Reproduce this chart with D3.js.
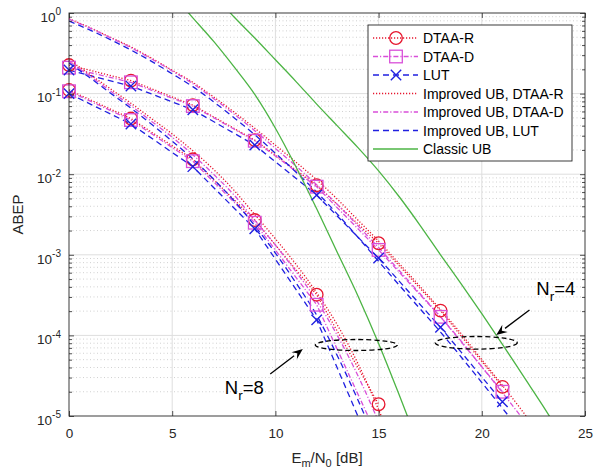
<!DOCTYPE html>
<html><head><meta charset="utf-8">
<script src="https://cdn.jsdelivr.net/npm/d3@7"></script>
<style>body{margin:0;background:#fff}svg{display:block;font-family:"Liberation Sans",Arial,Helvetica,sans-serif}</style>
</head><body><svg id="c" width="594" height="469"></svg>
<script>
// ---------- data ----------
const snrSim4 = [0, 3, 6, 9, 12, 15, 18, 21];
const simDTAAR_4 = [0.226, 0.145, 0.072, 0.0265, 0.0073, 0.00139, 2.03e-4, 2.3e-5];
const simDTAAD_4 = [0.21, 0.138, 0.07, 0.026, 0.007, 0.00115, 1.7e-4, 2.0e-5];
const simLUT_4   = [0.196, 0.124, 0.063, 0.023, 0.0055, 9.1e-4, 1.26e-4, 1.5e-5];

const snrSim8 = [0, 3, 6, 9, 12, 15];
const simDTAAR_8 = [0.111, 0.049, 0.0153, 0.0027, 3.2e-4, 1.4e-5];
const simDTAAD_8 = [0.107, 0.047, 0.0145, 0.0025, 2.4e-4, 5.2e-6];
const simLUT_8   = [0.1, 0.042, 0.0124, 0.0021, 1.56e-4, 2.5e-6];

const snrBound = [0,1,2,3,4,5,6,7,8,9,10,11,12,13,14,15,16,17,18,19,20,21,22,23,24];
const ubDTAAR_4 = [0.85,0.66,0.50,0.38,0.275,0.195,0.138,0.0912,0.0589,0.0372,0.0229,0.0141,0.00851,0.0049,0.00269,0.00148,7.76e-4,4.07e-4,2.09e-4,1.05e-4,5.0e-5,2.4e-5,1.12e-5,5.0e-6];
const ubDTAAD_4 = [0.84,0.653,0.495,0.372,0.269,0.191,0.133,0.087,0.0556,0.0347,0.0209,0.0126,0.00741,0.00422,0.00229,0.00123,6.38e-4,3.31e-4,1.70e-4,8.5e-5,4.07e-5,1.95e-5,9.1e-6];
const ubLUT_4   = [0.794,0.617,0.468,0.347,0.251,0.176,0.122,0.0794,0.0501,0.0309,0.0182,0.0106,0.0060,0.0032,0.00165,8.3e-4,4.2e-4,2.15e-4,1.1e-4,5.4e-5,2.6e-5,1.25e-5,5.9e-6];
const ubDTAAR_8 = [0.263,0.174,0.115,0.0759,0.049,0.0316,0.0195,0.0115,0.0063,0.00316,0.00158,7.6e-4,3.39e-4,1.35e-4,4.47e-5,1.2e-5,2.8e-6];
const ubDTAAD_8 = [0.251,0.166,0.108,0.0708,0.0452,0.0288,0.0174,0.01,0.0055,0.00269,0.00132,6.17e-4,2.69e-4,1.0e-4,3.16e-5,8.5e-6];
const ubLUT_8   = [0.24,0.158,0.102,0.066,0.0417,0.0257,0.0155,0.0087,0.00468,0.00229,0.00105,4.47e-4,1.78e-4,5.6e-5,1.58e-5,4e-6];

const snrClassic8 = [5,6,7,8,9,10,11,12,13,14,15,16,17];
const classicUB_8 = [1.7,0.871,0.447,0.214,0.0977,0.0372,0.0123,0.00372,0.00107,3.09e-4,7.94e-5,1.82e-5,3.98e-6];
const snrClassic4 = [7,8,9,10,11,12,13,14,15,16,17,18,19,20,21,22,23,24];
const classicUB_4 = [1.7,0.891,0.49,0.263,0.141,0.0741,0.0398,0.0214,0.011,0.00525,0.00234,0.001,4.37e-4,1.86e-4,7.76e-5,3.16e-5,1.29e-5,5.0e-6];

const xTicks = [0, 5, 10, 15, 20, 25];
const yTicks = [1e-5, 1e-4, 1e-3, 1e-2, 1e-1, 1];
const legendLabels = ["DTAA-R", "DTAA-D", "LUT", "Improved UB, DTAA-R", "Improved UB, DTAA-D", "Improved UB, LUT", "Classic UB"];

// ---------- layout / style ----------
const W = 594, H = 469;
const M = {left: 69, right: 585, top: 13, bottom: 416};
const styles = {
  R: {color: "#e6162e", dash: "1.2,1.8", width: 1.3},
  D: {color: "#d94fd9", dash: "5,2,1.2,2", width: 1.3},
  L: {color: "#2020e0", dash: "6,4", width: 1.3},
  C: {color: "#4cb444", dash: null, width: 1.3}
};
const axisColor = "#262626";

const svg = d3.select("#c");
const x = d3.scaleLinear().domain([0, 25]).range([M.left, M.right]);
const y = d3.scaleLog().domain([1e-5, 1]).range([M.bottom, M.top]);

svg.append("rect").attr("width", W).attr("height", H).attr("fill", "#fff");
svg.append("defs").append("clipPath").attr("id", "clip")
  .append("rect").attr("x", M.left).attr("y", M.top)
  .attr("width", M.right - M.left).attr("height", M.bottom - M.top);

// minor y values
const yMinor = [];
for (let e = -5; e < 0; e++) for (let k = 2; k <= 9; k++) yMinor.push(k * Math.pow(10, e));

// grid
const grid = svg.append("g");
grid.selectAll(".my").data(yMinor).join("line")
  .attr("x1", M.left).attr("x2", M.right)
  .attr("y1", d => y(d)).attr("y2", d => y(d))
  .attr("stroke", "#bdbdbd").attr("stroke-width", 0.7).attr("stroke-dasharray", "1,2.5");
grid.selectAll(".gy").data(yTicks.slice(1, -1)).join("line")
  .attr("x1", M.left).attr("x2", M.right)
  .attr("y1", d => y(d)).attr("y2", d => y(d))
  .attr("stroke", "#dedede").attr("stroke-width", 1);
grid.selectAll(".gx").data(xTicks.slice(1, -1)).join("line")
  .attr("y1", M.top).attr("y2", M.bottom)
  .attr("x1", d => x(d)).attr("x2", d => x(d))
  .attr("stroke", "#dedede").attr("stroke-width", 1);

// curves
const plot = svg.append("g").attr("clip-path", "url(#clip)");
const lineLin = d3.line().x(d => x(d[0])).y(d => y(d[1]));
const lineSmooth = d3.line().x(d => x(d[0])).y(d => y(d[1])).curve(d3.curveMonotoneX);
function zip(xs, ys) { return ys.map((v, i) => [xs[i], v]); }

const simSeries = [
  {k: "R", m: "o", d: zip(snrSim4, simDTAAR_4)},
  {k: "D", m: "s", d: zip(snrSim4, simDTAAD_4)},
  {k: "L", m: "x", d: zip(snrSim4, simLUT_4)},
  {k: "R", m: "o", d: zip(snrSim8, simDTAAR_8)},
  {k: "D", m: "s", d: zip(snrSim8, simDTAAD_8)},
  {k: "L", m: "x", d: zip(snrSim8, simLUT_8)}
];
const ubSeries = [
  {k: "R", d: zip(snrBound, ubDTAAR_4)},
  {k: "D", d: zip(snrBound, ubDTAAD_4)},
  {k: "L", d: zip(snrBound, ubLUT_4)},
  {k: "R", d: zip(snrBound, ubDTAAR_8)},
  {k: "D", d: zip(snrBound, ubDTAAD_8)},
  {k: "L", d: zip(snrBound, ubLUT_8)},
  {k: "C", d: zip(snrClassic4, classicUB_4)},
  {k: "C", d: zip(snrClassic8, classicUB_8)}
];

function styled(sel, k) {
  const s = styles[k];
  sel.attr("fill", "none").attr("stroke", s.color).attr("stroke-width", s.width);
  if (s.dash) sel.attr("stroke-dasharray", s.dash);
  return sel;
}
simSeries.forEach(s => styled(plot.append("path").attr("d", lineLin(s.d)), s.k));
ubSeries.forEach(s => styled(plot.append("path").attr("d", lineSmooth(s.d)), s.k));

function marker(g, type, cx, cy, color) {
  if (type === "o") g.append("circle").attr("cx", cx).attr("cy", cy).attr("r", 6.3)
    .attr("fill", "none").attr("stroke", color).attr("stroke-width", 1.3);
  else if (type === "s") g.append("rect").attr("x", cx - 6.3).attr("y", cy - 6.3)
    .attr("width", 12.6).attr("height", 12.6).attr("fill", "none").attr("stroke", color).attr("stroke-width", 1.3);
  else {
    const r = 5.2;
    g.append("path").attr("d", `M${cx-r},${cy-r}L${cx+r},${cy+r}M${cx-r},${cy+r}L${cx+r},${cy-r}`)
      .attr("stroke", color).attr("stroke-width", 1.4).attr("fill", "none");
  }
}
const mk = svg.append("g");
simSeries.forEach(s => s.d.filter(p => p[1] >= 1e-5 && p[1] <= 1)
  .forEach(p => marker(mk, s.m, x(p[0]), y(p[1]), styles[s.k].color)));

// axes
const fontTick = 13.5;
const ax = svg.append("g").attr("fill", axisColor);
const xb = ax.append("g").attr("transform", `translate(0,${M.bottom})`)
  .call(d3.axisBottom(x).tickValues(xTicks).tickSizeInner(-5).tickSizeOuter(0).tickPadding(12));
const xt = ax.append("g").attr("transform", `translate(0,${M.top})`)
  .call(d3.axisTop(x).tickValues(xTicks).tickSizeInner(-5).tickSizeOuter(0).tickFormat(""));
const yl = ax.append("g").attr("transform", `translate(${M.left},0)`)
  .call(d3.axisLeft(y).tickValues(yTicks).tickSizeInner(-5).tickSizeOuter(0).tickPadding(8));
const yr = ax.append("g").attr("transform", `translate(${M.right},0)`)
  .call(d3.axisRight(y).tickValues(yTicks).tickSizeInner(-5).tickSizeOuter(0).tickFormat(""));
const ylm = ax.append("g").attr("transform", `translate(${M.left},0)`)
  .call(d3.axisLeft(y).tickValues(yMinor).tickSizeInner(-3).tickSizeOuter(0).tickFormat(""));
const yrm = ax.append("g").attr("transform", `translate(${M.right},0)`)
  .call(d3.axisRight(y).tickValues(yMinor).tickSizeInner(-3).tickSizeOuter(0).tickFormat(""));
[xb, xt, yl, yr, ylm, yrm].forEach(g => {
  g.select(".domain").remove();
  g.selectAll(".tick line").attr("stroke", axisColor).attr("stroke-width", 0.8);
  g.selectAll("text").attr("font-size", fontTick).attr("font-family", null).attr("fill", axisColor);
});
yl.selectAll(".tick text").each(function(d) {
  const t = d3.select(this);
  t.text(null).attr("dy", "0.62em");
  t.append("tspan").text("10");
  t.append("tspan").attr("dy", -6.5).attr("font-size", 10).text(Math.round(Math.log10(d)));
});
svg.append("rect").attr("x", M.left).attr("y", M.top)
  .attr("width", M.right - M.left).attr("height", M.bottom - M.top)
  .attr("fill", "none").attr("stroke", axisColor).attr("stroke-width", 0.9);

// axis labels
const xl = svg.append("text").attr("x", (M.left + M.right) / 2).attr("y", 463)
  .attr("text-anchor", "middle").attr("font-size", 15).attr("fill", axisColor);
xl.append("tspan").text("E");
xl.append("tspan").attr("dy", 4).attr("font-size", 11).text("m");
xl.append("tspan").attr("dy", -4).text("/N");
xl.append("tspan").attr("dy", 4).attr("font-size", 11).text("0");
xl.append("tspan").attr("dy", -4).text(" [dB]");
svg.append("text").attr("transform", `translate(23,${(M.top + M.bottom) / 2}) rotate(-90)`)
  .attr("text-anchor", "middle").attr("font-size", 15).attr("fill", axisColor).text("ABEP");

// annotations (data coordinates)
const ann = svg.append("g");
function ellipse(cxv, cyv, rxPx, ryPx) {
  ann.append("ellipse").attr("cx", x(cxv)).attr("cy", y(cyv)).attr("rx", rxPx).attr("ry", ryPx)
    .attr("fill", "none").attr("stroke", "#000").attr("stroke-width", 1.3).attr("stroke-dasharray", "5,3");
}
ellipse(13.92, 7.6e-5, 41, 5.5);
ellipse(19.73, 8.1e-5, 41, 6.3);
function arrow(x0, y0, x1, y1) {
  const X0 = x(x0), Y0 = y(y0), X1 = x(x1), Y1 = y(y1);
  const a = Math.atan2(Y1 - Y0, X1 - X0), L = 11, w = 4.5;
  const bx = X1 - L * Math.cos(a), by = Y1 - L * Math.sin(a);
  ann.append("line").attr("x1", X0).attr("y1", Y0).attr("x2", bx).attr("y2", by)
    .attr("stroke", "#000").attr("stroke-width", 1.3);
  const p1 = [bx + w * Math.sin(a), by - w * Math.cos(a)], p2 = [bx - w * Math.sin(a), by + w * Math.cos(a)];
  const n = [X1 - 7 * Math.cos(a), Y1 - 7 * Math.sin(a)];
  ann.append("path").attr("d", `M${X1},${Y1}L${p1}L${n}L${p2}Z`).attr("fill", "#000");
}
arrow(9.75, Math.pow(10, -4.48), 11.33, Math.pow(10, -4.17));
arrow(22.31, Math.pow(10, -3.685), 20.7, Math.pow(10, -3.995));
function nrLabel(xv, yv, n) {
  const t = ann.append("text").attr("x", x(xv)).attr("y", y(yv)).attr("font-size", 18.5).attr("fill", "#000");
  t.append("tspan").text("N");
  t.append("tspan").attr("dy", 6).attr("font-size", 13.5).text("r");
  t.append("tspan").attr("dy", -6).text("=" + n);
}
nrLabel(7.55, Math.pow(10, -4.73), 8);
nrLabel(22.64, Math.pow(10, -3.5), 4);

// legend
const lg = svg.append("g");
const LX = 368, LY = 25, LW = 204, LH = 136, rowH = 18.5;
lg.append("rect").attr("x", LX).attr("y", LY).attr("width", LW).attr("height", LH)
  .attr("fill", "#fff").attr("stroke", axisColor).attr("stroke-width", 0.9);
const legKeys = ["R", "D", "L", "R", "D", "L", "C"];
const legMarks = ["o", "s", "x", null, null, null, null];
legendLabels.forEach((lab, i) => {
  const cy = LY + 13 + i * rowH;
  styled(lg.append("line").attr("x1", LX + 5).attr("x2", LX + 50).attr("y1", cy).attr("y2", cy), legKeys[i]);
  if (legMarks[i]) marker(lg, legMarks[i], LX + 28, cy, styles[legKeys[i]].color);
  lg.append("text").attr("x", LX + 55).attr("y", cy).attr("dy", "0.36em")
    .attr("font-size", 14).attr("fill", "#000").text(lab);
});
</script>
</body></html>
